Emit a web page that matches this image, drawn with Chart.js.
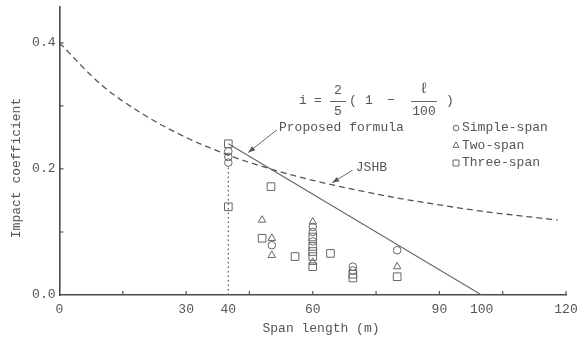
<!DOCTYPE html>
<html lang="en"><head><meta charset="UTF-8"><title>Impact coefficient vs span length</title>
<script src="https://cdn.jsdelivr.net/npm/chart.js@4"></script>
<style>
  html,body{margin:0;background:#fff;}
</style>
</head><body>
<canvas id="c" width="588" height="340"></canvas>
<script>
// values
const xLabels = [0, 30, 40, 60, 90, 100, 120];
const xMarks  = [15, 30, 45, 60, 75, 90, 105, 120];
const yLabels = [0, 0.2, 0.4];
const yMarks  = [0.1, 0.2, 0.3, 0.4];

// JSHB curve (dashed)
const jshbSpan  = [0, 10, 20, 30, 40, 50, 60, 70, 80, 90, 100, 110, 118];
const jshbValue = [0.40, 0.333, 0.286, 0.25, 0.222, 0.20, 0.182, 0.167, 0.154, 0.143, 0.133, 0.125, 0.119];

// proposed formula (solid)
const propSpan  = [40, 100];
const propValue = [0.24, 0];

// dotted guide at 40 m
const guideSpan  = [40, 40];
const guideValue = [0, 0.205];

const simpleSpan  = [40, 40, 40, 50.3, 60, 60, 60, 69.5, 69.5, 80];
const simpleValue = [0.228, 0.219, 0.21, 0.079, 0.108, 0.100, 0.085, 0.045, 0.039, 0.071];

const twoSpan  = [48, 50.3, 50.3, 60, 60, 80];
const twoValue = [0.119, 0.090, 0.063, 0.116, 0.052, 0.045];

const threeSpan  = [40, 40, 50.1, 48, 55.8, 64.2, 60, 60, 60, 60, 60, 69.5, 69.5, 80];
const threeValue = [0.24, 0.14, 0.172, 0.09, 0.061, 0.066, 0.092, 0.077, 0.069, 0.061, 0.045, 0.033, 0.027, 0.029];

const pts = (xs, ys) => xs.map((x, i) => ({ x, y: ys[i] }));

const FONT = "'Liberation Mono', 'DejaVu Sans Mono', monospace";
const INK = '#555';

function arrow(ctx, x1, y1, x2, y2) {
  ctx.beginPath();
  ctx.moveTo(x1, y1);
  ctx.lineTo(x2, y2);
  ctx.stroke();
  const a = Math.atan2(y2 - y1, x2 - x1);
  const L = 7, W = 2.6;
  ctx.beginPath();
  ctx.moveTo(x2, y2);
  ctx.lineTo(x2 - L * Math.cos(a) + W * Math.sin(a), y2 - L * Math.sin(a) - W * Math.cos(a));
  ctx.lineTo(x2 - L * Math.cos(a) - W * Math.sin(a), y2 - L * Math.sin(a) + W * Math.cos(a));
  ctx.closePath();
  ctx.fill();
}

const annot = {
  id: 'annot',
  afterDraw(chart) {
    const ctx = chart.ctx;
    const xs = chart.scales.x, ys = chart.scales.y;
    const px = v => xs.getPixelForValue(v), py = v => ys.getPixelForValue(v);
    const y0 = py(0), x0 = px(0);
    ctx.save();
    ctx.strokeStyle = '#555';
    ctx.lineWidth = 1.2;
    // inner tick marks
    ctx.beginPath();
    xMarks.forEach(v => { ctx.moveTo(px(v), y0); ctx.lineTo(px(v), y0 - 4); });
    yMarks.forEach(v => { ctx.moveTo(x0, py(v)); ctx.lineTo(x0 + 4, py(v)); });
    ctx.stroke();

    ctx.fillStyle = INK;
    ctx.strokeStyle = '#666';
    ctx.lineWidth = 1;
    ctx.font = '13px ' + FONT;
    ctx.textBaseline = 'middle';
    ctx.textAlign = 'left';

    // labels with arrows
    ctx.fillText('Proposed formula', px(52), py(0.265));
    arrow(ctx, px(51.5), py(0.262), px(44.7), py(0.226));
    ctx.fillText('JSHB', px(70.2), py(0.203));
    arrow(ctx, px(69.4), py(0.198), px(64.6), py(0.178));

    // formula i = 2/5 (1 - l/100)
    ctx.textAlign = 'center';
    ctx.fillText('i', 303, 101);
    ctx.fillText('=', 318, 101);
    ctx.fillText('2', 338, 91);
    ctx.fillText('5', 338, 112);
    ctx.fillText('(', 353, 101);
    ctx.fillText('1', 369, 101);
    ctx.fillText('\u2212', 391, 101);
    ctx.font = '15px ' + FONT;
    ctx.fillText('\u2113', 424, 89);
    ctx.font = '13px ' + FONT;
    ctx.fillText('100', 424, 112);
    ctx.fillText(')', 450, 101);
    ctx.beginPath();
    ctx.moveTo(330, 101.5); ctx.lineTo(346, 101.5);
    ctx.moveTo(411, 101.5); ctx.lineTo(437, 101.5);
    ctx.stroke();

    // legend
    ctx.textAlign = 'left';
    const leg = [['circle', 2.8, 'Simple-span'], ['triangle', 3.6, 'Two-span'], ['rect', 4.2, 'Three-span']];
    leg.forEach((l, i) => {
      const y = 128 + i * 17.5;
      ctx.fillStyle = 'rgba(0,0,0,0)';
      Chart.helpers.drawPoint(ctx, { pointStyle: l[0], radius: l[1], rotation: 0, borderWidth: 1 }, 456, y);
      ctx.fillStyle = INK;
      ctx.fillText(l[2], 462, y);
    });

    // axis titles
    ctx.textAlign = 'center';
    ctx.fillText('Span length (m)', 321, 329);
    ctx.translate(17, 168);
    ctx.rotate(-Math.PI / 2);
    ctx.fillText('Impact coefficient', 0, 0);
    ctx.restore();
  }
};

const marker = (label, style, r, xs, ys) => ({
  label, data: pts(xs, ys), showLine: false,
  pointStyle: style, pointRadius: r, pointHoverRadius: r,
  borderColor: '#666', borderWidth: 1, backgroundColor: 'rgba(0,0,0,0)'
});

new Chart(document.getElementById('c'), {
  type: 'scatter',
  data: {
    datasets: [
      { label: 'JSHB', type: 'line', data: pts(jshbSpan, jshbValue), borderColor: '#555', borderWidth: 1.3,
        borderDash: [6, 4], pointRadius: 0, cubicInterpolationMode: 'monotone', fill: false },
      { label: 'Proposed formula', type: 'line', data: pts(propSpan, propValue), borderColor: '#666', borderWidth: 1.1,
        pointRadius: 0, fill: false },
      { label: 'guide', type: 'line', data: pts(guideSpan, guideValue), borderColor: '#555', borderWidth: 1.2,
        borderDash: [1.5, 3], pointRadius: 0, fill: false },
      marker('Simple-span', 'circle', 3.8, simpleSpan, simpleValue),
      marker('Two-span', 'triangle', 4.3, twoSpan, twoValue),
      marker('Three-span', 'rect', 5.4, threeSpan, threeValue)
    ]
  },
  options: {
    responsive: false,
    animation: false,
    devicePixelRatio: 1,
    layout: { padding: { top: 7, right: 22, left: 0, bottom: 0 } },
    plugins: { legend: { display: false }, tooltip: { enabled: false } },
    scales: {
      x: {
        type: 'linear', min: 0, max: 120,
        afterBuildTicks: s => { s.ticks = xLabels.map(v => ({ value: v })); },
        afterFit: s => { s.height = 45; },
        grid: { display: false, drawTicks: false },
        border: { display: true, color: '#4a4a4a', width: 1.6 },
        ticks: { padding: 7, maxRotation: 0, autoSkip: false, color: INK, font: { family: FONT, size: 13 },
                 callback: v => String(v) }
      },
      y: {
        type: 'linear', min: 0, max: 0.457,
        afterBuildTicks: s => { s.ticks = yLabels.map(v => ({ value: v })); },
        afterFit: s => { s.width = 59.5; s.paddingTop = 0; s.paddingBottom = 0; },
        grid: { display: false, drawTicks: false },
        border: { display: true, color: '#4a4a4a', width: 1.6 },
        ticks: { padding: 4, color: INK, font: { family: FONT, size: 13 }, callback: v => v.toFixed(1) }
      }
    }
  },
  plugins: [annot]
});
</script>
</body></html>
